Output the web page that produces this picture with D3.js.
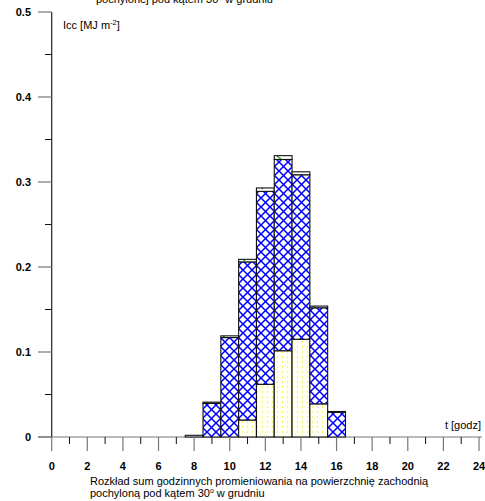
<!DOCTYPE html>
<html><head><meta charset="utf-8">
<script src="https://cdn.jsdelivr.net/npm/d3@7"></script>
<style>body{margin:0;background:#fff}svg{display:block;font-family:"Liberation Sans",Arial,sans-serif}</style>
</head><body>
<script>
const hours = [1,2,3,4,5,6,7,8,9,10,11,12,13,14,15,16,17,18,19,20,21,22,23];
const direct    = [0,0,0,0,0,0,0,0,0,0,0.020,0.062,0.1015,0.115,0.039,0,0,0,0,0,0,0,0];
const diffuse   = [0,0,0,0,0,0,0,0,0.0395,0.117,0.186,0.227,0.225,0.1935,0.113,0.029,0,0,0,0,0,0,0];
const reflected = [0,0,0,0,0,0,0,0.002,0.0015,0.002,0.003,0.004,0.0045,0.0035,0.002,0.001,0,0,0,0,0,0,0];
const xTicks = [0,2,4,6,8,10,12,14,16,18,20,22,24];
const yTicks = [0,0.1,0.2,0.3,0.4,0.5];

const W=485,H=501;
const svg=d3.select("body").append("svg").attr("width",W).attr("height",H);
const x=d3.scaleLinear().domain([0,24]).range([51.7,479]);
const y=d3.scaleLinear().domain([0,0.5]).range([437,12]);

const defs=svg.append("defs");
const ph=defs.append("pattern").attr("id","hatch").attr("patternUnits","userSpaceOnUse").attr("width",9).attr("height",9);
ph.append("rect").attr("width",9).attr("height",9).attr("fill","#fff");
ph.append("path").attr("d","M-1,-1L10,10M10,-1L-1,10").attr("stroke","#0000ff").attr("stroke-width",1.5);
const py=defs.append("pattern").attr("id","dots").attr("patternUnits","userSpaceOnUse").attr("width",5).attr("height",5);
py.append("rect").attr("width",5).attr("height",5).attr("fill","#fffff2");
py.append("rect").attr("x",2).attr("y",1).attr("width",1).attr("height",2).attr("fill","#f4f070");
const pg=defs.append("pattern").attr("id","green").attr("patternUnits","userSpaceOnUse").attr("width",18).attr("height",6);
pg.append("rect").attr("width",18).attr("height",6).attr("fill","#fff");
pg.append("path").attr("d","M7,0L11,3").attr("stroke","#00b000").attr("stroke-width",1.2);

const series=[{v:direct,fill:"url(#dots)"},{v:diffuse,fill:"url(#hatch)"},{v:reflected,fill:"url(#green)"}];
svg.append("line").attr("x1",38).attr("x2",482).attr("y1",y(0)).attr("y2",y(0)).attr("stroke","#777").attr("stroke-width",1.2);
const g=svg.append("g");
hours.forEach((h,i)=>{
  let base=0;
  series.forEach(s=>{
    const v=s.v[i];
    const x0=x(h-0.5),x1=x(h+0.5);
    g.append("rect").attr("x",x0).attr("y",y(base+v)).attr("width",x1-x0).attr("height",y(base)-y(base+v))
      .attr("fill",s.fill).attr("stroke","#111").attr("stroke-width",1.1);
    base+=v;
  });
});

svg.append("line").attr("x1",x(0)).attr("x2",x(0)).attr("y1",y(0.5)).attr("y2",y(0)).attr("stroke","#222").attr("stroke-width",1.2);
yTicks.forEach(t=>{
  svg.append("line").attr("x1",38).attr("x2",x(0)).attr("y1",y(t)).attr("y2",y(t)).attr("stroke","#777").attr("stroke-width",1.2);
  svg.append("text").attr("x",31).attr("y",y(t)+4).attr("text-anchor","end").attr("font-size",11).attr("font-weight","bold").text(t===0?"0":d3.format(".1f")(t));
});
[0.05,0.15,0.25,0.35,0.45].forEach(t=>{
  svg.append("line").attr("x1",45).attr("x2",x(0)).attr("y1",y(t)).attr("y2",y(t)).attr("stroke","#111").attr("stroke-width",1);
});
xTicks.forEach(t=>{
  svg.append("line").attr("x1",x(t)).attr("x2",x(t)).attr("y1",y(0)).attr("y2",y(0)+14).attr("stroke","#777").attr("stroke-width",1.2);
  svg.append("text").attr("x",x(t)).attr("y",469.5).attr("text-anchor","middle").attr("font-size",11).attr("font-weight","bold").text(t);
});
d3.range(1,24,2).forEach(t=>{
  svg.append("line").attr("x1",x(t)).attr("x2",x(t)).attr("y1",y(0)).attr("y2",y(0)+7).attr("stroke","#111").attr("stroke-width",1);
});

const yl=svg.append("text").attr("x",63).attr("y",29).attr("font-size",11);
yl.append("tspan").text("Icc [MJ m");
yl.append("tspan").attr("font-size",7.5).attr("dy",-4).text("-2");
yl.append("tspan").attr("dy",4).text("]");
svg.append("text").attr("x",481).attr("y",429).attr("text-anchor","end").attr("font-size",11).text("t [godz]");

const topTitle=svg.append("text").attr("x",96).attr("y",3).attr("font-size",11);
topTitle.append("tspan").text("pochylonej pod kątem 30");
topTitle.append("tspan").attr("font-size",7).attr("dy",-4).text("o");
topTitle.append("tspan").attr("dy",4).text(" w grudniu");

svg.append("text").attr("x",90).attr("y",485).attr("font-size",11).text("Rozkład sum godzinnych promieniowania na powierzchnię zachodnią");
const b2=svg.append("text").attr("x",90).attr("y",497).attr("font-size",11);
b2.append("tspan").text("pochyloną pod kątem 30");
b2.append("tspan").attr("font-size",7).attr("dy",-4).text("o");
b2.append("tspan").attr("dy",4).text(" w grudniu");
</script>
</body></html>
